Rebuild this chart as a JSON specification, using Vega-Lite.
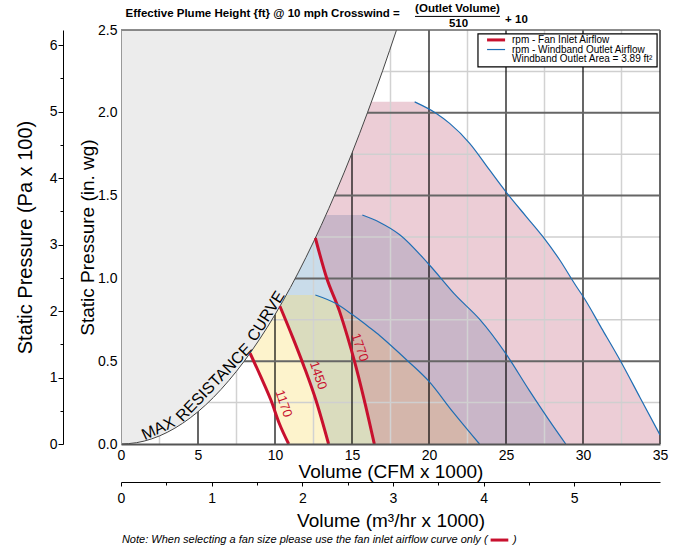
{
  "$schema": "https://vega.github.io/schema/vega-lite/v6.json",
  "width": 539,
  "height": 414,
  "autosize": "none",
  "padding": {"left": 121, "top": 30, "right": 23, "bottom": 107},
  "background": "white",
  "config": {
    "view": {"stroke": null},
    "axis": {"labelColor": "black", "titleColor": "black", "titleFontWeight": "normal", "labelFont": "Liberation Sans, Arial, sans-serif", "titleFont": "Liberation Sans, Arial, sans-serif"}
  },
  "data": {"values": [{}]},
  "datasets": {
    "regions": [
      {"rpm": 1170, "q": 8.38, "lo": 0.548, "hi": 0.548},
      {"rpm": 1170, "q": 8.7, "lo": 0.483, "hi": 0.591},
      {"rpm": 1170, "q": 9.09, "lo": 0.404, "hi": 0.645},
      {"rpm": 1170, "q": 9.5, "lo": 0.316, "hi": 0.705},
      {"rpm": 1170, "q": 9.74, "lo": 0.264, "hi": 0.741},
      {"rpm": 1170, "q": 10.0, "lo": 0.197, "hi": 0.781},
      {"rpm": 1170, "q": 10.28, "lo": 0.124, "hi": 0.825},
      {"rpm": 1170, "q": 10.5, "lo": 0.079, "hi": 0.861},
      {"rpm": 1170, "q": 10.735, "lo": 0.032, "hi": 0.9},
      {"rpm": 1170, "q": 10.89, "lo": 0, "hi": 0.9},
      {"rpm": 1170, "q": 12.62, "lo": 0, "hi": 0.9},
      {"rpm": 1170, "q": 13.96, "lo": 0, "hi": 0.848},
      {"rpm": 1170, "q": 15.04, "lo": 0, "hi": 0.78},
      {"rpm": 1170, "q": 16.13, "lo": 0, "hi": 0.704},
      {"rpm": 1170, "q": 16.81, "lo": 0, "hi": 0.654},
      {"rpm": 1170, "q": 17.42, "lo": 0, "hi": 0.604},
      {"rpm": 1170, "q": 18.64, "lo": 0, "hi": 0.5},
      {"rpm": 1170, "q": 20.0, "lo": 0, "hi": 0.378},
      {"rpm": 1170, "q": 21.55, "lo": 0, "hi": 0.194},
      {"rpm": 1170, "q": 23.28, "lo": 0, "hi": 0},
      {"rpm": 1450, "q": 10.32, "lo": 0.832, "hi": 0.832},
      {"rpm": 1450, "q": 10.7, "lo": 0.75, "hi": 0.894},
      {"rpm": 1450, "q": 11.15, "lo": 0.644, "hi": 0.971},
      {"rpm": 1450, "q": 11.5, "lo": 0.56, "hi": 1.033},
      {"rpm": 1450, "q": 11.9, "lo": 0.464, "hi": 1.106},
      {"rpm": 1450, "q": 12.3, "lo": 0.359, "hi": 1.182},
      {"rpm": 1450, "q": 12.66, "lo": 0.264, "hi": 1.252},
      {"rpm": 1450, "q": 13.0, "lo": 0.155, "hi": 1.32},
      {"rpm": 1450, "q": 13.31, "lo": 0.055, "hi": 1.383},
      {"rpm": 1450, "q": 13.48, "lo": 0, "hi": 1.383},
      {"rpm": 1450, "q": 15.67, "lo": 0, "hi": 1.383},
      {"rpm": 1450, "q": 16.81, "lo": 0, "hi": 1.338},
      {"rpm": 1450, "q": 18.1, "lo": 0, "hi": 1.264},
      {"rpm": 1450, "q": 20.0, "lo": 0, "hi": 1.084},
      {"rpm": 1450, "q": 21.77, "lo": 0, "hi": 0.894},
      {"rpm": 1450, "q": 23.28, "lo": 0, "hi": 0.754},
      {"rpm": 1450, "q": 25.0, "lo": 0, "hi": 0.544},
      {"rpm": 1450, "q": 26.51, "lo": 0, "hi": 0.324},
      {"rpm": 1450, "q": 28.02, "lo": 0, "hi": 0.114},
      {"rpm": 1450, "q": 28.88, "lo": 0, "hi": 0},
      {"rpm": 1770, "q": 12.62, "lo": 1.244, "hi": 1.244},
      {"rpm": 1770, "q": 13.0, "lo": 1.119, "hi": 1.32},
      {"rpm": 1770, "q": 13.35, "lo": 1.004, "hi": 1.392},
      {"rpm": 1770, "q": 13.8, "lo": 0.896, "hi": 1.487},
      {"rpm": 1770, "q": 14.18, "lo": 0.804, "hi": 1.57},
      {"rpm": 1770, "q": 14.72, "lo": 0.644, "hi": 1.692},
      {"rpm": 1770, "q": 15.15, "lo": 0.504, "hi": 1.793},
      {"rpm": 1770, "q": 15.5, "lo": 0.375, "hi": 1.876},
      {"rpm": 1770, "q": 15.8, "lo": 0.264, "hi": 1.95},
      {"rpm": 1770, "q": 16.1, "lo": 0.142, "hi": 2.024},
      {"rpm": 1770, "q": 16.26, "lo": 0.077, "hi": 2.066},
      {"rpm": 1770, "q": 16.45, "lo": 0, "hi": 2.066},
      {"rpm": 1770, "q": 19.07, "lo": 0, "hi": 2.066},
      {"rpm": 1770, "q": 20.48, "lo": 0, "hi": 1.996},
      {"rpm": 1770, "q": 21.34, "lo": 0, "hi": 1.936},
      {"rpm": 1770, "q": 22.64, "lo": 0, "hi": 1.816},
      {"rpm": 1770, "q": 23.93, "lo": 0, "hi": 1.655},
      {"rpm": 1770, "q": 25.23, "lo": 0, "hi": 1.495},
      {"rpm": 1770, "q": 26.3, "lo": 0, "hi": 1.375},
      {"rpm": 1770, "q": 27.37, "lo": 0, "hi": 1.255},
      {"rpm": 1770, "q": 28.47, "lo": 0, "hi": 1.114},
      {"rpm": 1770, "q": 29.55, "lo": 0, "hi": 0.954},
      {"rpm": 1770, "q": 30.02, "lo": 0, "hi": 0.889},
      {"rpm": 1770, "q": 31.2, "lo": 0, "hi": 0.7},
      {"rpm": 1770, "q": 32.4, "lo": 0, "hi": 0.507},
      {"rpm": 1770, "q": 33.7, "lo": 0, "hi": 0.281},
      {"rpm": 1770, "q": 35.0, "lo": 0, "hi": 0.055}
    ],
    "fan": [
      {"rpm": 1170, "q": 8.38, "p": 0.548},
      {"rpm": 1170, "q": 9.09, "p": 0.404},
      {"rpm": 1170, "q": 9.74, "p": 0.264},
      {"rpm": 1170, "q": 10.28, "p": 0.124},
      {"rpm": 1170, "q": 10.89, "p": 0},
      {"rpm": 1450, "q": 10.32, "p": 0.832},
      {"rpm": 1450, "q": 11.15, "p": 0.644},
      {"rpm": 1450, "q": 11.9, "p": 0.464},
      {"rpm": 1450, "q": 12.66, "p": 0.264},
      {"rpm": 1450, "q": 13.48, "p": 0},
      {"rpm": 1770, "q": 12.62, "p": 1.244},
      {"rpm": 1770, "q": 13.35, "p": 1.004},
      {"rpm": 1770, "q": 14.18, "p": 0.804},
      {"rpm": 1770, "q": 14.72, "p": 0.644},
      {"rpm": 1770, "q": 15.15, "p": 0.504},
      {"rpm": 1770, "q": 15.8, "p": 0.264},
      {"rpm": 1770, "q": 16.45, "p": 0}
    ],
    "windband": [
      {"rpm": 1170, "q": 12.62, "p": 0.9},
      {"rpm": 1170, "q": 13.96, "p": 0.848},
      {"rpm": 1170, "q": 15.04, "p": 0.78},
      {"rpm": 1170, "q": 16.13, "p": 0.704},
      {"rpm": 1170, "q": 16.81, "p": 0.654},
      {"rpm": 1170, "q": 17.42, "p": 0.604},
      {"rpm": 1170, "q": 18.64, "p": 0.5},
      {"rpm": 1170, "q": 20.0, "p": 0.378},
      {"rpm": 1170, "q": 21.55, "p": 0.194},
      {"rpm": 1170, "q": 23.28, "p": 0},
      {"rpm": 1450, "q": 15.67, "p": 1.383},
      {"rpm": 1450, "q": 16.81, "p": 1.338},
      {"rpm": 1450, "q": 18.1, "p": 1.264},
      {"rpm": 1450, "q": 20.0, "p": 1.084},
      {"rpm": 1450, "q": 21.77, "p": 0.894},
      {"rpm": 1450, "q": 23.28, "p": 0.754},
      {"rpm": 1450, "q": 25.0, "p": 0.544},
      {"rpm": 1450, "q": 26.51, "p": 0.324},
      {"rpm": 1450, "q": 28.02, "p": 0.114},
      {"rpm": 1450, "q": 28.88, "p": 0},
      {"rpm": 1770, "q": 19.07, "p": 2.066},
      {"rpm": 1770, "q": 20.48, "p": 1.996},
      {"rpm": 1770, "q": 21.34, "p": 1.936},
      {"rpm": 1770, "q": 22.64, "p": 1.816},
      {"rpm": 1770, "q": 23.93, "p": 1.655},
      {"rpm": 1770, "q": 25.23, "p": 1.495},
      {"rpm": 1770, "q": 26.3, "p": 1.375},
      {"rpm": 1770, "q": 27.37, "p": 1.255},
      {"rpm": 1770, "q": 28.47, "p": 1.114},
      {"rpm": 1770, "q": 29.55, "p": 0.954},
      {"rpm": 1770, "q": 30.02, "p": 0.889},
      {"rpm": 1770, "q": 31.2, "p": 0.7},
      {"rpm": 1770, "q": 32.4, "p": 0.507},
      {"rpm": 1770, "q": 33.7, "p": 0.281},
      {"rpm": 1770, "q": 35.0, "p": 0.055}
    ],
    "maxcurve": [
      {"q": 0, "p": 0}, {"q": 1, "p": 0.0078}, {"q": 2, "p": 0.0312}, {"q": 3, "p": 0.0703},
      {"q": 4, "p": 0.125}, {"q": 5, "p": 0.195}, {"q": 6, "p": 0.281}, {"q": 7, "p": 0.383},
      {"q": 8, "p": 0.5}, {"q": 9, "p": 0.633}, {"q": 10, "p": 0.781}, {"q": 11, "p": 0.945},
      {"q": 12, "p": 1.125}, {"q": 13, "p": 1.32}, {"q": 14, "p": 1.531}, {"q": 15, "p": 1.757},
      {"q": 16, "p": 2.0}, {"q": 17, "p": 2.257}, {"q": 17.89, "p": 2.5}
    ],
    "grid": [
      {"dir": "v", "kind": "minor", "v": 2.5}, {"dir": "v", "kind": "minor", "v": 7.5},
      {"dir": "v", "kind": "minor", "v": 12.5}, {"dir": "v", "kind": "minor", "v": 17.5},
      {"dir": "v", "kind": "minor", "v": 22.5}, {"dir": "v", "kind": "minor", "v": 27.5},
      {"dir": "v", "kind": "minor", "v": 32.5},
      {"dir": "v", "kind": "major", "v": 5}, {"dir": "v", "kind": "major", "v": 10},
      {"dir": "v", "kind": "major", "v": 15}, {"dir": "v", "kind": "major", "v": 20},
      {"dir": "v", "kind": "major", "v": 25}, {"dir": "v", "kind": "major", "v": 30},
      {"dir": "v", "kind": "major", "v": 35},
      {"dir": "h", "kind": "minor", "v": 0.25}, {"dir": "h", "kind": "minor", "v": 0.75},
      {"dir": "h", "kind": "minor", "v": 1.25}, {"dir": "h", "kind": "minor", "v": 1.75},
      {"dir": "h", "kind": "minor", "v": 2.25},
      {"dir": "h", "kind": "major", "v": 0.5}, {"dir": "h", "kind": "major", "v": 1.0},
      {"dir": "h", "kind": "major", "v": 1.5}, {"dir": "h", "kind": "major", "v": 2.0}
    ],
    "rpmlabels": [
      {"rpm": "1170", "q": 10.55, "p": 0.244},
      {"rpm": "1450", "q": 12.8, "p": 0.414},
      {"rpm": "1770", "q": 15.5, "p": 0.584}
    ],
    "words": [
      {"word": "MAX", "q": 2.42, "p": 0.094},
      {"word": "RESISTANCE", "q": 6.04, "p": 0.371},
      {"word": "CURVE", "q": 9.42, "p": 0.772}
    ]
  },
  "layer": [
    {
      "layer": [
        {
          "data": {"name": "regions"},
          "transform": [{"filter": "datum.rpm == 1450"}],
          "mark": {"type": "area", "orient": "vertical", "color": "#659bc3", "opacity": 0.35},
          "encoding": {
            "x": {"field": "q", "type": "quantitative", "scale": {"domain": [0, 35], "nice": false},
              "axis": {"values": [0, 5, 10, 15, 20, 25, 30, 35], "title": "Volume (CFM x 1000)", "labelFontSize": 14, "titleFontSize": 19, "ticks": false, "labelPadding": 4, "titlePadding": 0, "domainColor": "#555", "domainWidth": 2, "grid": false, "labelFlush": false, "labelOverlap": false, "zindex": 1}},
            "y": {"field": "lo", "type": "quantitative", "scale": {"domain": [0, 2.5], "nice": false},
              "axis": {"values": [0, 0.5, 1, 1.5, 2, 2.5], "format": ".1f", "title": "Static Pressure (in. wg)", "labelFontSize": 14, "titleFontSize": 19, "ticks": false, "labelPadding": 4, "titlePadding": 0, "domainColor": "#999", "grid": false, "zindex": 1}},
            "y2": {"field": "hi"}
          }
        },
        {
          "data": {"name": "regions"},
          "transform": [{"filter": "datum.rpm == 1170"}],
          "mark": {"type": "area", "orient": "vertical", "color": "#f9dd6d", "opacity": 0.35},
          "encoding": {
            "x": {"field": "q", "type": "quantitative", "scale": {"domain": [0, 35], "nice": false}},
            "y": {"field": "lo", "type": "quantitative", "scale": {"domain": [0, 2.5], "nice": false}},
            "y2": {"field": "hi"}
          }
        },
        {
          "data": {"name": "regions"},
          "transform": [{"filter": "datum.rpm == 1770"}],
          "mark": {"type": "area", "orient": "vertical", "color": "#c9708a", "opacity": 0.35},
          "encoding": {
            "x": {"field": "q", "type": "quantitative", "scale": {"domain": [0, 35], "nice": false}},
            "y": {"field": "lo", "type": "quantitative", "scale": {"domain": [0, 2.5], "nice": false}},
            "y2": {"field": "hi"}
          }
        },
        {
          "data": {"name": "grid"},
          "transform": [{"filter": "datum.dir == 'v' && datum.kind == 'minor'"}],
          "mark": {"type": "rule", "color": "#d2d2d2", "strokeWidth": 1.5},
          "encoding": {"x": {"field": "v", "type": "quantitative", "scale": {"domain": [0, 35], "nice": false}}}
        },
        {
          "data": {"name": "grid"},
          "transform": [{"filter": "datum.dir == 'h' && datum.kind == 'minor'"}],
          "mark": {"type": "rule", "color": "#cfcfcf", "strokeWidth": 1.5},
          "encoding": {"y": {"field": "v", "type": "quantitative", "scale": {"domain": [0, 2.5], "nice": false}}}
        },
        {
          "data": {"name": "grid"},
          "transform": [{"filter": "datum.dir == 'v' && datum.kind == 'major'"}],
          "mark": {"type": "rule", "color": "#000000", "strokeWidth": 1.2},
          "encoding": {"x": {"field": "v", "type": "quantitative", "scale": {"domain": [0, 35], "nice": false}}}
        },
        {
          "data": {"name": "grid"},
          "transform": [{"filter": "datum.dir == 'h' && datum.kind == 'major'"}],
          "mark": {"type": "rule", "color": "#666666", "strokeWidth": 2},
          "encoding": {"y": {"field": "v", "type": "quantitative", "scale": {"domain": [0, 2.5], "nice": false}}}
        },
        {
          "data": {"name": "maxcurve"},
          "mark": {"type": "area", "orient": "vertical", "color": "#ececec", "opacity": 1},
          "encoding": {
            "x": {"field": "q", "type": "quantitative", "scale": {"domain": [0, 35], "nice": false}},
            "y": {"field": "p", "type": "quantitative", "scale": {"domain": [0, 2.5], "nice": false}},
            "y2": {"datum": 2.5}
          }
        },
        {
          "data": {"name": "maxcurve"},
          "mark": {"type": "line", "color": "#444444", "strokeWidth": 1, "interpolate": "monotone"},
          "encoding": {
            "x": {"field": "q", "type": "quantitative", "scale": {"domain": [0, 35], "nice": false}},
            "y": {"field": "p", "type": "quantitative", "scale": {"domain": [0, 2.5], "nice": false}}
          }
        },
        {
          "mark": {"type": "rule", "color": "#666666", "strokeWidth": 1.5},
          "encoding": {"y": {"datum": 2.5, "type": "quantitative", "scale": {"domain": [0, 2.5], "nice": false}}}
        },
        {
          "data": {"name": "fan"},
          "mark": {"type": "line", "color": "#c8102e", "strokeWidth": 3, "interpolate": "monotone"},
          "encoding": {
            "x": {"field": "q", "type": "quantitative", "scale": {"domain": [0, 35], "nice": false}},
            "y": {"field": "p", "type": "quantitative", "scale": {"domain": [0, 2.5], "nice": false}},
            "detail": {"field": "rpm", "type": "nominal"}
          }
        },
        {
          "data": {"name": "windband"},
          "mark": {"type": "line", "color": "#1f6eb4", "strokeWidth": 1.2, "interpolate": "monotone"},
          "encoding": {
            "x": {"field": "q", "type": "quantitative", "scale": {"domain": [0, 35], "nice": false}},
            "y": {"field": "p", "type": "quantitative", "scale": {"domain": [0, 2.5], "nice": false}},
            "detail": {"field": "rpm", "type": "nominal"}
          }
        },
        {
          "data": {"name": "rpmlabels"},
          "mark": {"type": "text", "color": "#c8102e", "fontSize": 13, "font": "Liberation Sans, Arial, sans-serif", "angle": 71, "align": "center", "baseline": "middle"},
          "encoding": {
            "x": {"field": "q", "type": "quantitative", "scale": {"domain": [0, 35], "nice": false}},
            "y": {"field": "p", "type": "quantitative", "scale": {"domain": [0, 2.5], "nice": false}},
            "text": {"field": "rpm"}
          }
        },
        {
          "data": {"name": "words"},
          "transform": [{"filter": "datum.word == 'MAX'"}],
          "mark": {"type": "text", "color": "black", "fontSize": 16, "font": "Liberation Sans, Arial, sans-serif", "angle": -25, "align": "center", "baseline": "middle"},
          "encoding": {
            "x": {"field": "q", "type": "quantitative", "scale": {"domain": [0, 35], "nice": false}},
            "y": {"field": "p", "type": "quantitative", "scale": {"domain": [0, 2.5], "nice": false}},
            "text": {"field": "word"}
          }
        },
        {
          "data": {"name": "words"},
          "transform": [{"filter": "datum.word == 'RESISTANCE'"}],
          "mark": {"type": "text", "color": "black", "fontSize": 16, "font": "Liberation Sans, Arial, sans-serif", "angle": -46, "align": "center", "baseline": "middle"},
          "encoding": {
            "x": {"field": "q", "type": "quantitative", "scale": {"domain": [0, 35], "nice": false}},
            "y": {"field": "p", "type": "quantitative", "scale": {"domain": [0, 2.5], "nice": false}},
            "text": {"field": "word"}
          }
        },
        {
          "data": {"name": "words"},
          "transform": [{"filter": "datum.word == 'CURVE'"}],
          "mark": {"type": "text", "color": "black", "fontSize": 16, "font": "Liberation Sans, Arial, sans-serif", "angle": -58, "align": "center", "baseline": "middle"},
          "encoding": {
            "x": {"field": "q", "type": "quantitative", "scale": {"domain": [0, 35], "nice": false}},
            "y": {"field": "p", "type": "quantitative", "scale": {"domain": [0, 2.5], "nice": false}},
            "text": {"field": "word"}
          }
        },
        {
          "mark": {"type": "rect", "fill": "white", "stroke": "black", "strokeWidth": 1.2},
          "encoding": {
            "x": {"datum": 23.18, "type": "quantitative", "scale": {"domain": [0, 35], "nice": false}},
            "x2": {"datum": 34.81},
            "y": {"datum": 2.476, "type": "quantitative", "scale": {"domain": [0, 2.5], "nice": false}},
            "y2": {"datum": 2.277}
          }
        },
        {
          "mark": {"type": "rule", "color": "#c8102e", "strokeWidth": 3},
          "encoding": {
            "x": {"datum": 23.77, "type": "quantitative", "scale": {"domain": [0, 35], "nice": false}},
            "x2": {"datum": 24.94},
            "y": {"datum": 2.44, "type": "quantitative", "scale": {"domain": [0, 2.5], "nice": false}}
          }
        },
        {
          "mark": {"type": "rule", "color": "#1f6eb4", "strokeWidth": 1.2},
          "encoding": {
            "x": {"datum": 23.77, "type": "quantitative", "scale": {"domain": [0, 35], "nice": false}},
            "x2": {"datum": 24.94},
            "y": {"datum": 2.382, "type": "quantitative", "scale": {"domain": [0, 2.5], "nice": false}}
          }
        },
        {
          "mark": {"type": "text", "text": "rpm - Fan Inlet Airflow", "fontSize": 10, "font": "Liberation Sans, Arial, sans-serif", "align": "left", "baseline": "middle", "color": "black"},
          "encoding": {
            "x": {"datum": 25.39, "type": "quantitative", "scale": {"domain": [0, 35], "nice": false}},
            "y": {"datum": 2.44, "type": "quantitative", "scale": {"domain": [0, 2.5], "nice": false}}
          }
        },
        {
          "mark": {"type": "text", "text": "rpm - Windband Outlet Airflow", "fontSize": 10, "font": "Liberation Sans, Arial, sans-serif", "align": "left", "baseline": "middle", "color": "black"},
          "encoding": {
            "x": {"datum": 25.39, "type": "quantitative", "scale": {"domain": [0, 35], "nice": false}},
            "y": {"datum": 2.382, "type": "quantitative", "scale": {"domain": [0, 2.5], "nice": false}}
          }
        },
        {
          "mark": {"type": "text", "text": "Windband Outlet Area = 3.89 ft²", "fontSize": 10, "font": "Liberation Sans, Arial, sans-serif", "align": "left", "baseline": "middle", "color": "black"},
          "encoding": {
            "x": {"datum": 25.39, "type": "quantitative", "scale": {"domain": [0, 35], "nice": false}},
            "y": {"datum": 2.322, "type": "quantitative", "scale": {"domain": [0, 2.5], "nice": false}}
          }
        },
        {
          "mark": {"type": "text", "text": "Effective Plume Height {ft} @ 10 mph Crosswind =", "fontSize": 11.5, "fontWeight": "bold", "font": "Liberation Sans, Arial, sans-serif", "align": "left", "baseline": "middle", "color": "black"},
          "encoding": {
            "x": {"datum": 0.3, "type": "quantitative", "scale": {"domain": [0, 35], "nice": false}},
            "y": {"datum": 2.599, "type": "quantitative", "scale": {"domain": [0, 2.5], "nice": false}}
          }
        },
        {
          "mark": {"type": "text", "text": "(Outlet Volume)", "fontSize": 11.5, "fontWeight": "bold", "font": "Liberation Sans, Arial, sans-serif", "align": "center", "baseline": "middle", "color": "black"},
          "encoding": {
            "x": {"datum": 21.85, "type": "quantitative", "scale": {"domain": [0, 35], "nice": false}},
            "y": {"datum": 2.627, "type": "quantitative", "scale": {"domain": [0, 2.5], "nice": false}}
          }
        },
        {
          "mark": {"type": "rule", "color": "black", "strokeWidth": 1},
          "encoding": {
            "x": {"datum": 19.09, "type": "quantitative", "scale": {"domain": [0, 35], "nice": false}},
            "x2": {"datum": 24.61},
            "y": {"datum": 2.582, "type": "quantitative", "scale": {"domain": [0, 2.5], "nice": false}}
          }
        },
        {
          "mark": {"type": "text", "text": "510", "fontSize": 11.5, "fontWeight": "bold", "font": "Liberation Sans, Arial, sans-serif", "align": "center", "baseline": "middle", "color": "black"},
          "encoding": {
            "x": {"datum": 21.92, "type": "quantitative", "scale": {"domain": [0, 35], "nice": false}},
            "y": {"datum": 2.536, "type": "quantitative", "scale": {"domain": [0, 2.5], "nice": false}}
          }
        },
        {
          "mark": {"type": "text", "text": "+ 10", "fontSize": 11.5, "fontWeight": "bold", "font": "Liberation Sans, Arial, sans-serif", "align": "left", "baseline": "middle", "color": "black"},
          "encoding": {
            "x": {"datum": 24.94, "type": "quantitative", "scale": {"domain": [0, 35], "nice": false}},
            "y": {"datum": 2.56, "type": "quantitative", "scale": {"domain": [0, 2.5], "nice": false}}
          }
        },
        {
          "mark": {"type": "text", "text": "Note: When selecting a fan size please use the fan inlet airflow curve only (", "fontSize": 11, "fontStyle": "italic", "font": "Liberation Sans, Arial, sans-serif", "align": "left", "baseline": "middle", "color": "black"},
          "encoding": {
            "x": {"datum": 0.06, "type": "quantitative", "scale": {"domain": [0, 35], "nice": false}},
            "y": {"datum": -0.58, "type": "quantitative", "scale": {"domain": [0, 2.5], "nice": false}}
          }
        },
        {
          "mark": {"type": "rule", "color": "#c8102e", "strokeWidth": 3},
          "encoding": {
            "x": {"datum": 24.0, "type": "quantitative", "scale": {"domain": [0, 35], "nice": false}},
            "x2": {"datum": 25.15},
            "y": {"datum": -0.58, "type": "quantitative", "scale": {"domain": [0, 2.5], "nice": false}}
          }
        },
        {
          "mark": {"type": "text", "text": ")", "fontSize": 11, "fontStyle": "italic", "font": "Liberation Sans, Arial, sans-serif", "align": "left", "baseline": "middle", "color": "black"},
          "encoding": {
            "x": {"datum": 25.45, "type": "quantitative", "scale": {"domain": [0, 35], "nice": false}},
            "y": {"datum": -0.58, "type": "quantitative", "scale": {"domain": [0, 2.5], "nice": false}}
          }
        }
      ]
    },
    {
      "mark": {"type": "point", "opacity": 0},
      "encoding": {
        "x": {"datum": 0, "type": "quantitative", "scale": {"domain": [0, 35], "nice": false}, "axis": null},
        "y": {"datum": 0, "type": "quantitative", "scale": {"domain": [0, 6.227], "nice": false},
          "axis": {"orient": "left", "offset": 58, "values": [0, 0.5, 1, 1.5, 2, 2.5, 3, 3.5, 4, 4.5, 5, 5.5, 6],
            "labelExpr": "datum.value % 1 === 0 ? format(datum.value, 'd') : ''",
            "tickSize": {"condition": {"test": "datum.value % 1 === 0", "value": 5}, "value": 3},
            "tickColor": "black", "domainColor": "black", "labelFontSize": 14, "labelPadding": 1,
            "title": "Static Pressure (Pa x 100)", "titleFontSize": 20, "titlePadding": 14, "grid": false, "labelOverlap": false}}
      }
    },
    {
      "mark": {"type": "point", "opacity": 0},
      "encoding": {
        "y": {"datum": 0, "type": "quantitative", "scale": {"domain": [0, 2.5], "nice": false}, "axis": null},
        "x": {"datum": 0, "type": "quantitative", "scale": {"domain": [0, 5.9465], "nice": false},
          "axis": {"orient": "bottom", "offset": 38, "values": [0, 0.5, 1, 1.5, 2, 2.5, 3, 3.5, 4, 4.5, 5, 5.5],
            "labelExpr": "datum.value % 1 === 0 ? format(datum.value, 'd') : ''",
            "tickSize": {"condition": {"test": "datum.value % 1 === 0", "value": 4}, "value": 3},
            "tickColor": "black", "domainColor": "black", "labelFontSize": 14, "labelPadding": 5,
            "title": "Volume (m³/hr x 1000)", "titleFontSize": 19, "titlePadding": 6, "grid": false, "labelFlush": false, "labelOverlap": false}}
      }
    }
  ],
  "resolve": {"scale": {"x": "independent", "y": "independent"}}
}
